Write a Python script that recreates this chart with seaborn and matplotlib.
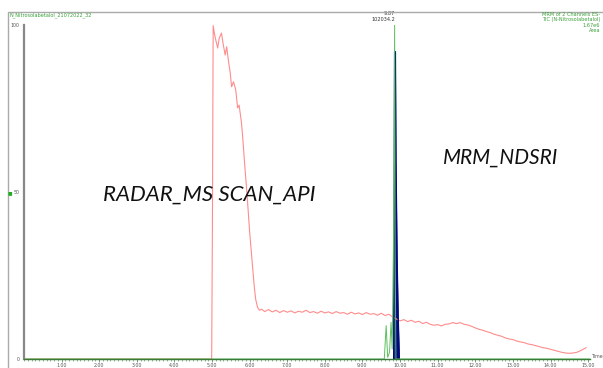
import matplotlib
matplotlib.use("Agg")
import matplotlib.pyplot as plt
import seaborn as sns
import numpy as np
import pandas as pd
from matplotlib.patches import Rectangle

# ---- data ----
red_time = [0.00, 4.99, 5.01, 5.03, 5.07, 5.11, 5.15, 5.19, 5.25, 5.30, 5.35, 5.39, 5.44, 5.48,
            5.52, 5.57, 5.63, 5.68, 5.72, 5.78, 5.81, 5.87, 5.94, 6.00, 6.06, 6.12, 6.16, 6.21,
            6.26, 6.32,
            6.4, 6.5, 6.6, 6.7, 6.8, 6.9, 7.0, 7.1, 7.2, 7.3, 7.4, 7.5, 7.6, 7.7, 7.8, 7.9,
            8.0, 8.1, 8.2, 8.3, 8.4, 8.5, 8.6, 8.7, 8.8, 8.9, 9.0, 9.1, 9.2, 9.3, 9.4, 9.5,
            9.6, 9.7, 9.8, 9.9, 10.0, 10.1, 10.2, 10.3, 10.4, 10.5, 10.6, 10.7, 10.8, 10.9,
            11.0, 11.1, 11.2, 11.3, 11.4, 11.5, 11.6, 11.7, 11.8, 11.9, 12.0, 12.1, 12.2,
            12.3, 12.4, 12.5, 12.6, 12.7, 12.8, 12.9, 13.0, 13.1, 13.2, 13.3, 13.4, 13.5,
            13.6, 13.7, 13.8, 13.9, 14.0, 14.1, 14.2, 14.3, 14.4, 14.5, 14.6, 14.7, 14.8,
            14.9, 14.95]
red_val = [0, 0, 40, 99.8, 97, 95, 93.1, 96, 97.6, 94, 91, 93.5, 88.9, 86,
           81.5, 83, 80.6, 75.2, 76, 71.0, 67.2, 58, 47.8, 38, 30, 22, 17.9, 15.5,
           14.6, 14.9,
           14.2, 14.8, 14.1, 14.6, 13.9, 14.5, 14.0, 14.4, 13.8, 14.3, 14.0, 14.6, 13.9, 14.2, 13.7, 14.3,
           13.8, 14.1, 13.6, 14.2, 13.7, 13.9, 13.4, 14.0, 13.5, 13.8, 13.3, 13.9, 13.4, 13.6, 13.1, 13.7,
           13.0, 13.4, 12.6, 12.0, 11.4, 11.8, 11.2, 11.6, 11.0, 11.3, 10.6, 11.0, 10.4, 10.1,
           10.3, 9.9, 10.4, 10.5, 10.9, 10.6, 10.9, 10.4, 10.2, 9.8, 9.3, 8.9, 8.6,
           8.2, 7.9, 7.4, 7.1, 6.8, 6.3, 6.0, 5.8, 5.4, 5.1, 4.9, 4.5, 4.3,
           4.0, 3.7, 3.4, 3.2, 2.9, 2.6, 2.3, 2.0, 1.8, 1.7, 1.8, 2.0, 2.5,
           3.1, 3.4]

green_time = [0.00, 9.58, 9.63, 9.67, 9.72, 9.76, 9.79, 9.83, 9.855, 9.87, 9.89, 15.05]
green_val = [0, 0, 10, 0.5, 2, 11, 3, 40, 100, 30, 0, 0]

blue_time = [9.83, 9.845, 9.855, 9.875, 9.89, 9.92, 9.95, 9.98]
blue_val = [0, 50, 92, 92, 60, 30, 12, 0]

x_ticks = [1, 2, 3, 4, 5, 6, 7, 8, 9, 10, 11, 12, 13, 14, 15]
x_ticklabels = ["1.00", "2.00", "3.00", "4.00", "5.00", "6.00", "7.00", "8.00",
                "9.00", "10.00", "11.00", "12.00", "13.00", "14.00", "15.00"]
y_ticks = [0, 50, 100]
y_ticklabels = ["0", "50", "100"]

title_left = "N_Nitrosolabetalol_21072022_32"
title_right = "MRM of 2 Channels ES-\nTIC (N-Nitrosolabetalol)\n1.67e6\nArea"
peak_label = "9.87\n102034.2"
label_scan = "RADAR_MS SCAN_API"
label_mrm = "MRM_NDSRI"

# ---- plot ----
sns.set_style("white")
fig = plt.figure(figsize=(6.03, 3.68), dpi=100)
ax = fig.add_axes([24/603, 1 - 359/368, (590 - 24)/603, (359 - 25)/368])

red_df = pd.DataFrame({"t": red_time, "v": red_val})
green_df = pd.DataFrame({"t": green_time, "v": green_val})
blue_df = pd.DataFrame({"t": blue_time, "v": blue_val})

sns.lineplot(data=red_df, x="t", y="v", ax=ax, color="#ff8c8c", linewidth=0.8, estimator=None)
ax.fill_between(blue_df["t"], blue_df["v"], color="#000a80", linewidth=0)
sns.lineplot(data=blue_df, x="t", y="v", ax=ax, color="#000a80", linewidth=1.0, estimator=None)
sns.lineplot(data=green_df, x="t", y="v", ax=ax, color="#5cbf5c", linewidth=0.7, estimator=None)

ax.set_xlim(0, 15.05)
ax.set_ylim(0, 100)
ax.set_xlabel("")
ax.set_ylabel("")

ax.set_xticks(x_ticks)
ax.set_xticklabels(x_ticklabels, fontsize=3.4, color="#555555")
ax.set_xticks(np.arange(0, 15.05, 0.1), minor=True)
ax.tick_params(axis="x", which="major", length=2.2, width=0.5, color="#3a7a3a", pad=0.5, direction="out")
ax.tick_params(axis="x", which="minor", length=1.5, width=0.4, color="#3a7a3a", direction="out")
ax.tick_params(axis="x", bottom=True, which="both")

ax.set_yticks(y_ticks)
ax.set_yticklabels(y_ticklabels, fontsize=3.4, color="#555555")
ax.tick_params(axis="y", length=0, pad=3)

for s in ["top", "right"]:
    ax.spines[s].set_visible(False)
ax.spines["left"].set_color("#888888")
ax.spines["left"].set_linewidth(1.6)
ax.spines["bottom"].set_color("#3a7a3a")
ax.spines["bottom"].set_linewidth(1.0)

# frame around the plot window
fig.patches.append(Rectangle((8/603, -0.05), 1.0, 1 - 12/368 + 0.05, transform=fig.transFigure,
                             fill=False, edgecolor="#aaaaaa", linewidth=1.0))

fig.text(10/603, 1 - 15/368, title_left, fontsize=3.6, color="#3aa03a", ha="left", va="center")
fig.text(600/603, 1 - 12/368, title_right, fontsize=3.6, color="#3aa03a", ha="right", va="top",
         linespacing=1.1)
fig.text(10/603, 1 - 193/368, "\u25a0", fontsize=3.5, color="#22aa22", ha="center", va="center")
fig.text(592/603, 1 - 357/368, "Time", fontsize=3.4, color="#555555", ha="left", va="center")

ax.text(9.86, 101, peak_label, fontsize=3.6, color="#333333", ha="right", va="bottom",
        linespacing=1.1, clip_on=False)

fig.text(209/603, 1 - 195/368, label_scan, fontsize=16, fontstyle="italic", family="Lato",
         ha="center", va="center", color="#111111")
fig.text(501/603, 1 - 158/368, label_mrm, fontsize=15, fontstyle="italic", family="Lato",
         ha="center", va="center", color="#111111")

fig.savefig("out.png", dpi=100)
